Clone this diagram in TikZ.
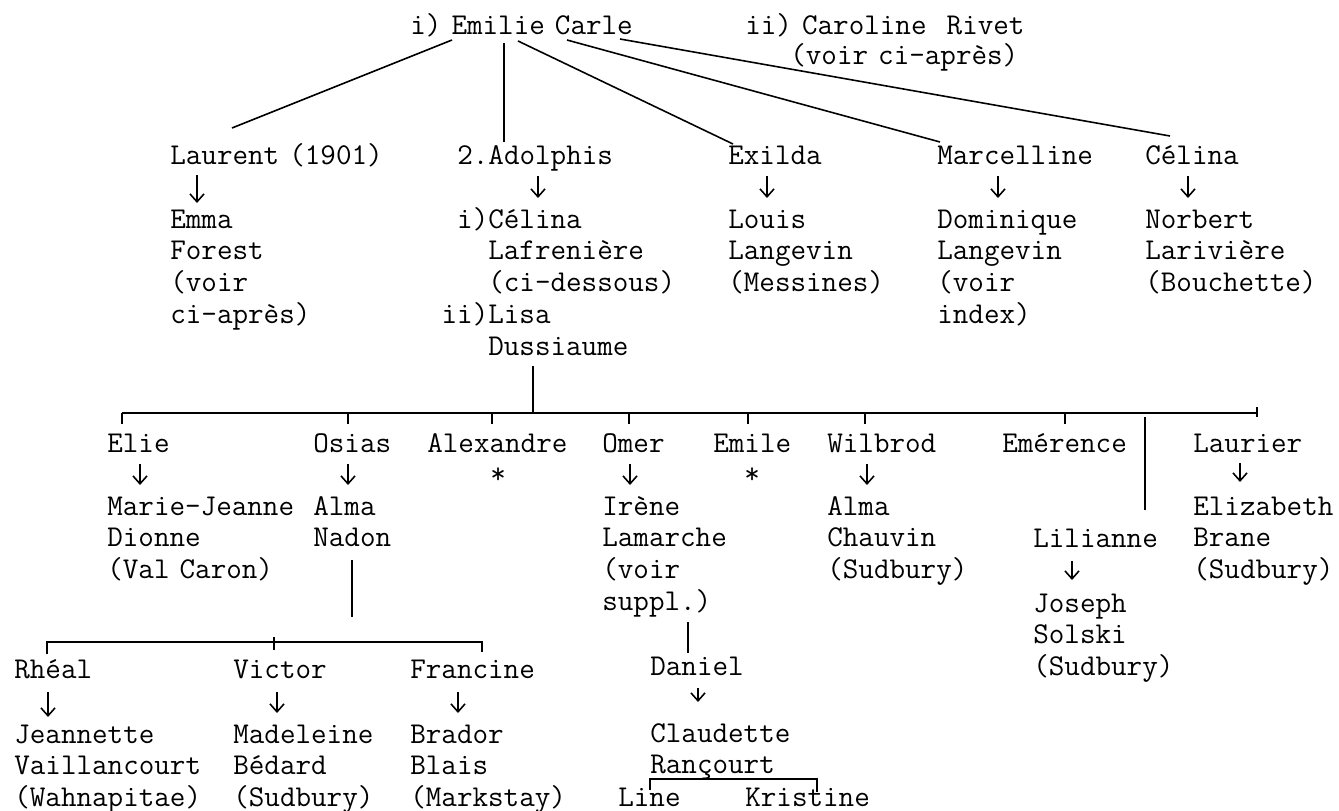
\documentclass[tikz,border=0pt]{standalone}
\usetikzlibrary{arrows.meta}

\newcommand{\tw}{\fontsize{17.2}{18.1}\selectfont\ttfamily}

\begin{document}
\begin{tikzpicture}[x=0.02cm, y=-0.02cm,
    ent/.style={anchor=base west, inner sep=0pt, text width=7cm, align=left,
                font=\tw, execute at begin node=\tw},
    lnk/.style={line width=0.9pt},
    dnarr/.style={line width=0.9pt, -{Straight Barb[length=4.5pt,width=8pt]}}]

    \useasboundingbox (0,0) rectangle (1339,811);

    %%%%%%%%%%%%%%%%%%%%%%%%%%%%%%%%%%%%%%%%%%%%%%%%%%%%%%

    % first and second wife
    \node[ent] (emilie) at (410,35) {i) Emilie Carle};
    \node[ent] (caroline) at (745,35) {ii) Caroline\ \ Rivet};
    \node[ent] (voirca) at (790,65) {(voir ci-après)};

    %%%%%%%%%%%%%%%%%%%%%%%%%%%%%%%%%%%%%%%%%%%%%%%%%%%%%%

    % children of Emilie
    \node[ent] (laurent) at (170,165) {Laurent (1901)};
    \node[ent] (adolphis) at (457,165) {2.Adolphis};
    \node[ent] (exilda) at (728,165) {Exilda};
    \node[ent] (marcelline) at (937,165) {Marcelline};
    \node[ent] (celina) at (1145,165) {Célina};

    \draw[lnk] ([shift={(42,5)}]emilie.base west) -- ([shift={(62,-37)}]laurent.base west);
    \draw[lnk] ([shift={(94,8)}]emilie.base west) -- ([shift={(47,-23)}]adolphis.base west);
    \draw[lnk] ([shift={(108,6)}]emilie.base west) -- ([shift={(5,-21)}]exilda.base west);
    \draw[lnk] ([shift={(157,5)}]emilie.base west) -- ([shift={(3,-23)}]marcelline.base west);
    \draw[lnk] ([shift={(210,4)}]emilie.base west) -- ([shift={(25,-29)}]celina.base west);

    % their spouses
    \node[ent] (emma) at (170,228) {Emma\\Forest\\(voir\\ci-après)};
    \node[ent] (adspouses) at (488,228) {\llap{i)}Célina\\Lafrenière\\(ci-dessous)\\\leavevmode\llap{ii)}Lisa\\Dussiaume};
    \node[ent] (louis) at (728,228) {Louis\\Langevin\\(Messines)};
    \node[ent] (dominique) at (937,228) {Dominique\\Langevin\\(voir\\index)};
    \node[ent] (norbert) at (1145,228) {Norbert\\Larivière\\(Bouchette)};

    \draw[dnarr] ([shift={(27,10)}]laurent.base west) -- ([shift={(27,-25)}]emma.base west);
    \draw[dnarr] ([shift={(81,11)}]adolphis.base west) -- ([shift={(50,-30)}]adspouses.base west);
    \draw[dnarr] ([shift={(39,11)}]exilda.base west) -- ([shift={(39,-30)}]louis.base west);
    \draw[dnarr] ([shift={(61,11)}]marcelline.base west) -- ([shift={(61,-30)}]dominique.base west);
    \draw[dnarr] ([shift={(43,11)}]celina.base west) -- ([shift={(43,-30)}]norbert.base west);

    %%%%%%%%%%%%%%%%%%%%%%%%%%%%%%%%%%%%%%%%%%%%%%%%%%%%%%

    % children of Adolphis
    \node[ent] (elie) at (107,452) {Elie};
    \node[ent] (osias) at (313,452) {Osias};
    \node[ent] (alexandre) at (427,452) {Alexandre};
    \node[ent] (omer) at (602,452) {Omer};
    \node[ent] (emile) at (713,452) {Emile};
    \node[ent] (wilbrod) at (827,452) {Wilbrod};
    \node[ent] (emerence) at (1002,452) {Emérence};
    \node[ent] (laurier) at (1193,452) {Laurier};

    % the bar and its ticks
    \draw[lnk] ([shift={(45,138)}]adspouses.base west) -- ([shift={(45,185)}]adspouses.base west);
    \draw[lnk] ([shift={(15,-39)}]elie.base west) -- ([shift={(64,-39)}]laurier.base west);
    \draw[lnk] ([shift={(64,-45)}]laurier.base west) -- ([shift={(64,-35)}]laurier.base west);
    \foreach \n/\dx in {elie/15, osias/35, alexandre/65, omer/27, emile/35, wilbrod/38, emerence/63}
        \draw[lnk] ([shift={(\dx,-39)}]\n.base west) -- ([shift={(\dx,-28)}]\n.base west);

    % no spouse
    \node[ent] (starA) at (490,483) {*};
    \node[ent] (starE) at (744,483) {*};

    % their spouses
    \node[ent] (mariejeanne) at (107,515) {Marie-Jeanne\\Dionne\\(Val Caron)};
    \node[ent] (almanadon) at (313,515) {Alma\\Nadon};
    \node[ent] (irene) at (602,515) {Irène\\Lamarche\\(voir\\suppl.)};
    \node[ent] (almachauvin) at (827,515) {Alma\\Chauvin\\(Sudbury)};
    \node[ent] (elizabeth) at (1193,515) {Elizabeth\\Brane\\(Sudbury)};

    \draw[dnarr] ([shift={(33,12)}]elie.base west) -- ([shift={(33,-30)}]mariejeanne.base west);
    \draw[dnarr] ([shift={(35,12)}]osias.base west) -- ([shift={(35,-30)}]almanadon.base west);
    \draw[dnarr] ([shift={(28,12)}]omer.base west) -- ([shift={(28,-30)}]irene.base west);
    \draw[dnarr] ([shift={(40,12)}]wilbrod.base west) -- ([shift={(40,-30)}]almachauvin.base west);
    \draw[dnarr] ([shift={(47,11)}]laurier.base west) -- ([shift={(47,-33)}]elizabeth.base west);

    % Emerence's daughter
    \node[ent] (lilianne) at (1033,547) {Lilianne};
    \node[ent] (joseph) at (1033,612) {Joseph\\Solski\\(Sudbury)};
    \draw[lnk] ([shift={(143,-35)}]emerence.base west) -- ([shift={(112,-37)}]lilianne.base west);
    \draw[dnarr] ([shift={(39,14)}]lilianne.base west) -- ([shift={(39,-32)}]joseph.base west);

    %%%%%%%%%%%%%%%%%%%%%%%%%%%%%%%%%%%%%%%%%%%%%%%%%%%%%%

    % children of Osias
    \node[ent] (rheal) at (14,678) {Rhéal};
    \node[ent] (victor) at (233,678) {Victor};
    \node[ent] (francine) at (410,678) {Francine};

    \draw[lnk] ([shift={(39,45)}]almanadon.base west) -- ([shift={(39,102)}]almanadon.base west);
    \draw[lnk] ([shift={(33,-24)}]rheal.base west) -- ([shift={(33,-36)}]rheal.base west)
        -- ([shift={(72,-36)}]francine.base west) -- ([shift={(72,-26)}]francine.base west);
    \draw[lnk] ([shift={(41,-41)}]victor.base west) -- ([shift={(41,-28)}]victor.base west);

    % their spouses
    \node[ent] (jeannette) at (14,743) {Jeannette\\Vaillancourt\\(Wahnapitae)};
    \node[ent] (madeleine) at (233,743) {Madeleine\\Bédard\\(Sudbury)};
    \node[ent] (brador) at (410,743) {Brador\\Blais\\(Markstay)};

    \draw[dnarr] ([shift={(34,14)}]rheal.base west) -- ([shift={(34,-26)}]jeannette.base west);
    \draw[dnarr] ([shift={(44,14)}]victor.base west) -- ([shift={(44,-30)}]madeleine.base west);
    \draw[dnarr] ([shift={(48,14)}]francine.base west) -- ([shift={(48,-30)}]brador.base west);

    %%%%%%%%%%%%%%%%%%%%%%%%%%%%%%%%%%%%%%%%%%%%%%%%%%%%%%

    % son of Omer
    \node[ent] (daniel) at (650,675) {Daniel};
    \node[ent] (claudette) at (650,742) {Claudette\\Rançourt};
    \draw[lnk] ([shift={(86,107)}]irene.base west) -- ([shift={(38,-22)}]daniel.base west);
    \draw[dnarr] ([shift={(48,13)}]daniel.base west) -- ([shift={(48,-40)}]claudette.base west);

    % their children
    \node[ent] (line) at (618,806) {Line};
    \node[ent] (kristine) at (745,806) {Kristine};
    \draw[lnk] ([shift={(32,-16)}]line.base west) -- ([shift={(32,-27)}]line.base west)
        -- ([shift={(72,-27)}]kristine.base west) -- ([shift={(72,-14)}]kristine.base west);

\end{tikzpicture}
\end{document}
